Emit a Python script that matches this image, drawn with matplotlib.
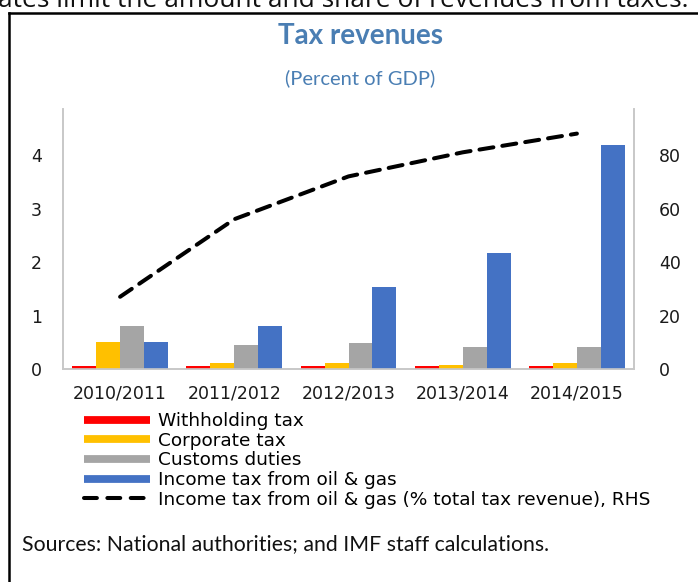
import numpy as np
import matplotlib
matplotlib.use("Agg")
import matplotlib.pyplot as plt
from matplotlib.lines import Line2D

# ── 데이터 ───────────────────────────────────────────────────────────────
YEARS       = ["2010/2011", "2011/2012", "2012/2013", "2013/2014", "2014/2015"]
WITHHOLDING = [0.05, 0.05, 0.05, 0.05, 0.05]
CORPORATE   = [0.50, 0.11, 0.11, 0.08, 0.11]
CUSTOMS     = [0.80, 0.44, 0.48, 0.41, 0.41]
OIL_GAS     = [0.50, 0.80, 1.54, 2.16, 4.19]
OIL_GAS_PCT = [27, 56, 72, 81, 88]   # RHS, % of total tax revenue

SERIES = [
    ("Withholding tax", WITHHOLDING, "#ff0000"),
    ("Corporate tax", CORPORATE, "#ffc000"),
    ("Customs duties", CUSTOMS, "#a5a5a5"),
    ("Income tax from oil & gas", OIL_GAS, "#4472c4"),
]
LINE_LABEL = "Income tax from oil & gas (% total tax revenue), RHS"

W, H = 698, 582
plt.rcParams["font.family"] = ["DejaVu Sans"]
DASH = (0, (3.5, 2.25))

fig = plt.figure(figsize=(W / 100, H / 100), dpi=100, facecolor="white")
ax = fig.add_axes([63 / W, 1 - 369 / H, (634 - 63) / W, (369 - 109) / H])
ax2 = ax.twinx()

x = np.arange(len(YEARS))
bw = 0.21
for k, (name, vals, col) in enumerate(SERIES):
    ax.bar(x + (k - 1.5) * bw, vals, width=bw, color=col, label=name, zorder=3)

ax2.plot(x, OIL_GAS_PCT, color="black", lw=2.9, ls=DASH,
         dash_capstyle="round", solid_capstyle="round")

ax.set_xlim(-0.5, len(YEARS) - 0.5)
ax.set_ylim(0, 4.86)
ax.set_yticks([0, 1, 2, 3, 4])
ax2.set_ylim(0, 97.2)
ax2.set_yticks([0, 20, 40, 60, 80])
ax.set_xticks(x)
ax.set_xticklabels(YEARS)

for a in (ax, ax2):
    for s in a.spines.values():
        s.set_color("#c8c8c8")
        s.set_linewidth(1.2)
        s.set_zorder(1)
    a.spines["top"].set_visible(False)
    a.tick_params(length=0, labelsize=12.5, colors="#1a1a1a")
ax.tick_params(axis="y", pad=15)
ax.tick_params(axis="x", pad=11)
ax2.tick_params(axis="y", pad=18)

# ── 범례 ─────────────────────────────────────────────────────────────────
handles = [Line2D([0], [0], color=c, lw=5.6, solid_capstyle="butt") for _, _, c in SERIES]
handles.append(Line2D([0], [0], color="black", lw=2.9, ls=(0, (3.2, 2.6)),
                      dash_capstyle="round"))
labels = [n for n, _, _ in SERIES] + [LINE_LABEL]
fig.legend(handles, labels, loc="upper left", bbox_to_anchor=(84 / W, 1 - 412 / H),
           frameon=False, fontsize=13.3, handlelength=3.57, handletextpad=0.43,
           labelspacing=0.09, borderpad=0, borderaxespad=0)

# ── 텍스트 ───────────────────────────────────────────────────────────────
blue = "#4a7eb3"
fig.text(361 / W, 1 - 36 / H, "Tax revenues", ha="center", va="center",
         fontsize=20, fontweight="bold", color=blue, family=["Lato", "DejaVu Sans"])
fig.text(360 / W, 1 - 78 / H, "(Percent of GDP)", ha="center", va="center",
         fontsize=14.5, color=blue, family=["Lato", "DejaVu Sans"])
fig.text(22 / W, 1 - 544 / H, "Sources: National authorities; and IMF staff calculations.",
         ha="left", va="center", fontsize=15.3, color="#111111",
         family=["Lato", "DejaVu Sans"])
fig.text(-2 / W, 1 - 7 / H, "ates limit the amount and share of revenues from taxes.",
         ha="left", va="baseline", fontsize=19, color="#111111",
         family=["Open Sans", "DejaVu Sans"])

# 테두리 박스
fig.add_artist(Line2D([9 / W, 9 / W], [1 - 13 / H, 0], transform=fig.transFigure,
                      color="black", lw=1.8))
fig.add_artist(Line2D([9 / W, 1], [1 - 13 / H, 1 - 13 / H], transform=fig.transFigure,
                      color="black", lw=1.8))

fig.savefig("out.png", dpi=100, facecolor="white")
